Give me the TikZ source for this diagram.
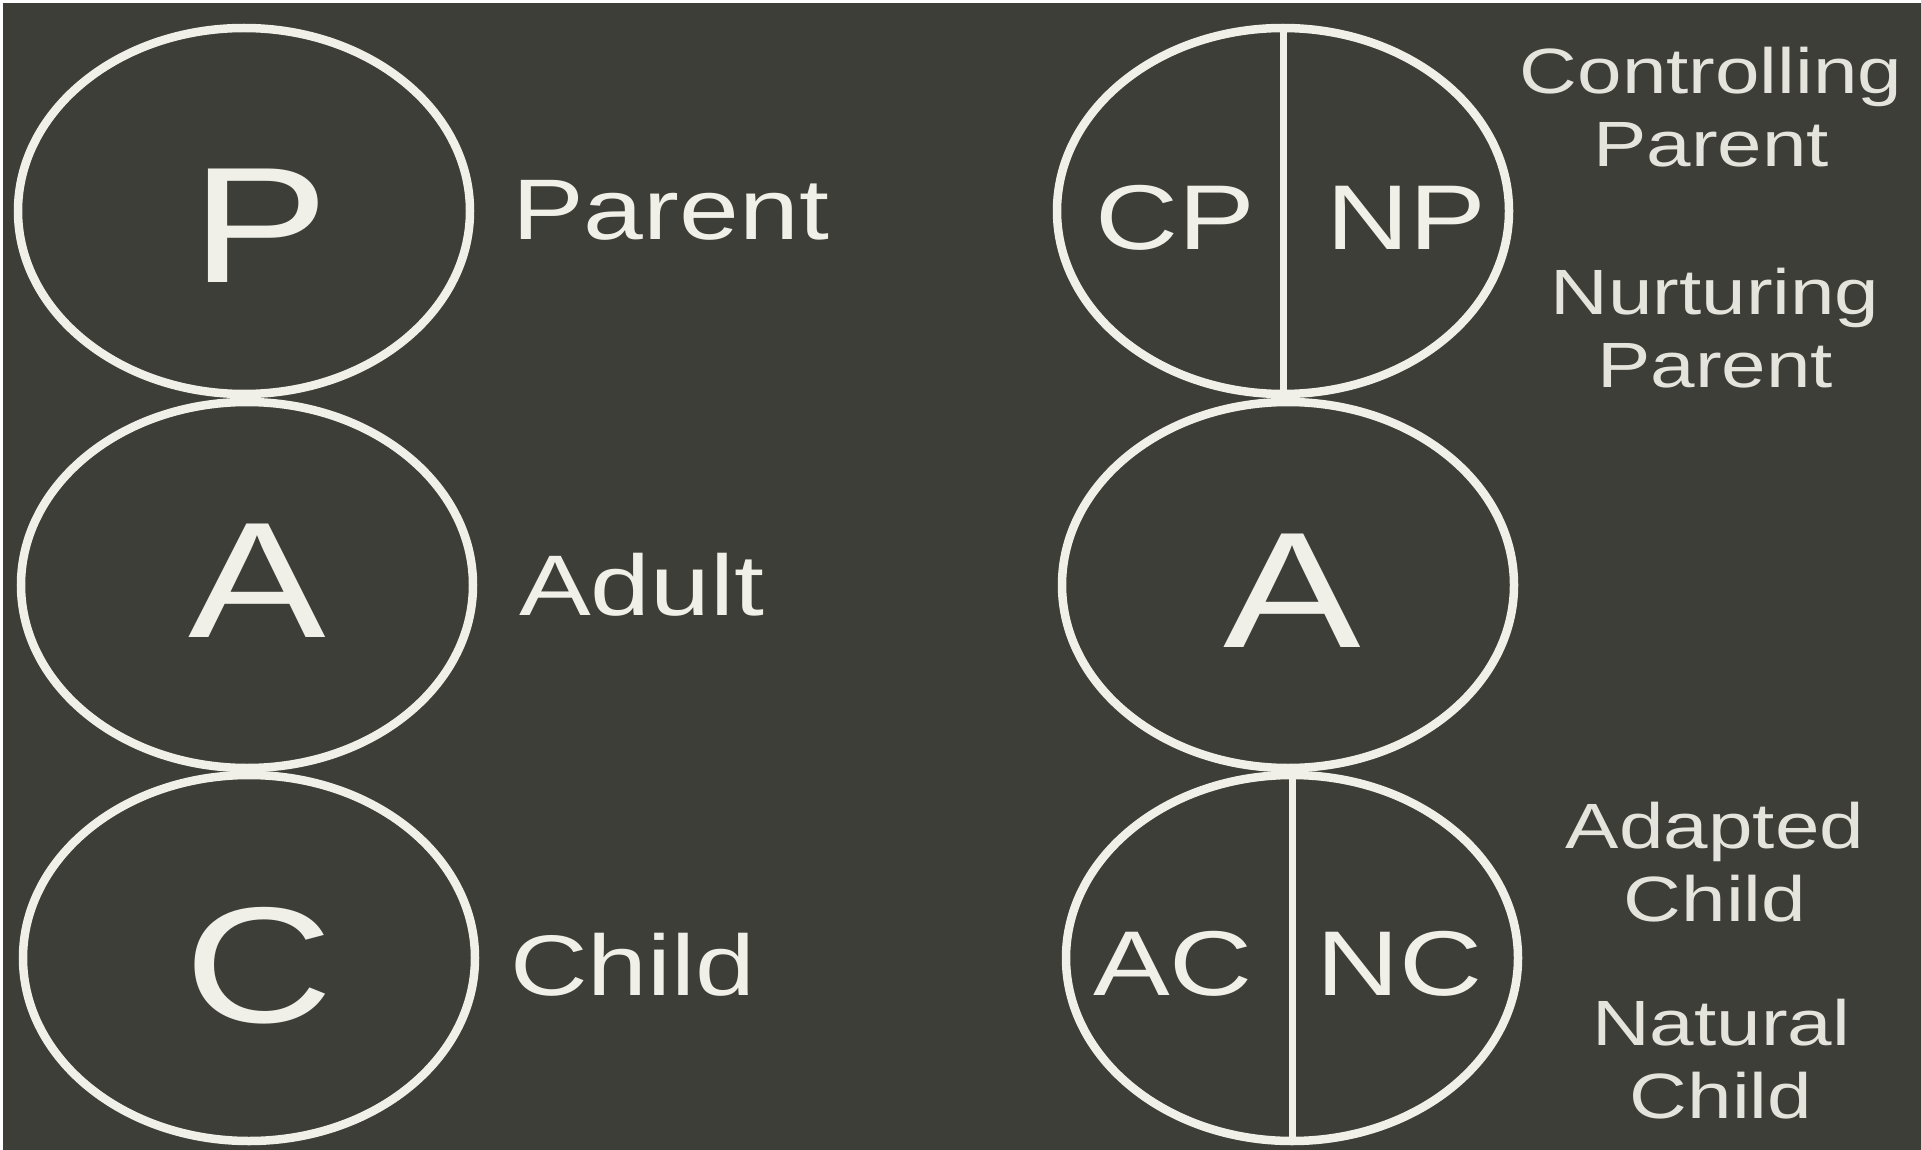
\documentclass[tikz,border=0pt]{standalone}
\usepackage{fontspec}
\newfontfamily\egofont[FakeStretch=1.25]{Liberation Sans}
\usetikzlibrary{shapes.geometric}
\definecolor{boardc}{RGB}{62,62,57}
\definecolor{chalkc}{RGB}{240,240,232}
\definecolor{notec}{RGB}{228,228,220}
\tikzset{
  egostate/.style={draw=chalkc, line width=8.5pt, ellipse, inner sep=0pt,
                   minimum width=452pt, minimum height=366pt},
  bigltr/.style={text=chalkc, inner sep=0pt, anchor=base,
                 font=\egofont\fontsize{165}{165}\selectfont},
  subltr/.style={text=chalkc, inner sep=0pt, anchor=base,
                 font=\egofont\fontsize{92}{92}\selectfont},
  statelbl/.style={text=chalkc, inner sep=0pt, anchor=base west,
                   font=\egofont\fontsize{86}{86}\selectfont},
  sublbl/.style={text=notec, inner sep=0pt, anchor=base, align=center,
                 font=\egofont\fontsize{64}{73}\selectfont},
  divide/.style={draw=chalkc, line width=7pt},
}

\begin{document}
\begin{tikzpicture}[x=1pt, y=-1pt]
  % board
  \useasboundingbox (0,0) rectangle (1921,1150);
  \fill[white] (0,0) rectangle (1921,1150);
  \fill[boardc] (3,3) rectangle (1921,1150);

  % simple model
  \node[egostate] (par) at (244,211) {};
  \node[egostate] (adu) at (247,585) {};
  \node[egostate] (chi) at (249,958) {};
  \node[bigltr] (pltr) at (260,282) {P};
  \node[bigltr] (altr) at (257,637) {A};
  \node[bigltr] (cltr) at (259,1022) {C};
  \node[statelbl] (parlbl) at (512,240) {Parent};
  \node[statelbl] (adulbl) at (519,615) {Adult};
  \node[statelbl] (chilbl) at (510,995) {Child};

  % functional model
  \node[egostate] (cpnp) at (1283,211) {};
  \node[egostate] (adr) at (1288,585) {};
  \node[egostate] (acnc) at (1292,958) {};
  \draw[divide] (cpnp.north) -- (cpnp.south);
  \draw[divide] (acnc.north) -- (acnc.south);
  \node[subltr] (cp) at (1175,250) {CP};
  \node[subltr] (np) at (1406,250) {NP};
  \node[bigltr] (artr) at (1292,647) {A};
  \node[subltr] (ac) at (1173,995) {AC};
  \node[subltr] (nc) at (1400,995) {NC};
  % two-line notes, placed at the second baseline
  \node[sublbl] (cplbl) at (1711,167) {Controlling\\Parent};
  \node[sublbl] (nplbl) at (1715,387) {Nurturing\\Parent};
  \node[sublbl] (aclbl) at (1715,921) {Adapted\\Child};
  \node[sublbl] (nclbl) at (1721,1118) {Natural\\Child};
\end{tikzpicture}
\end{document}
